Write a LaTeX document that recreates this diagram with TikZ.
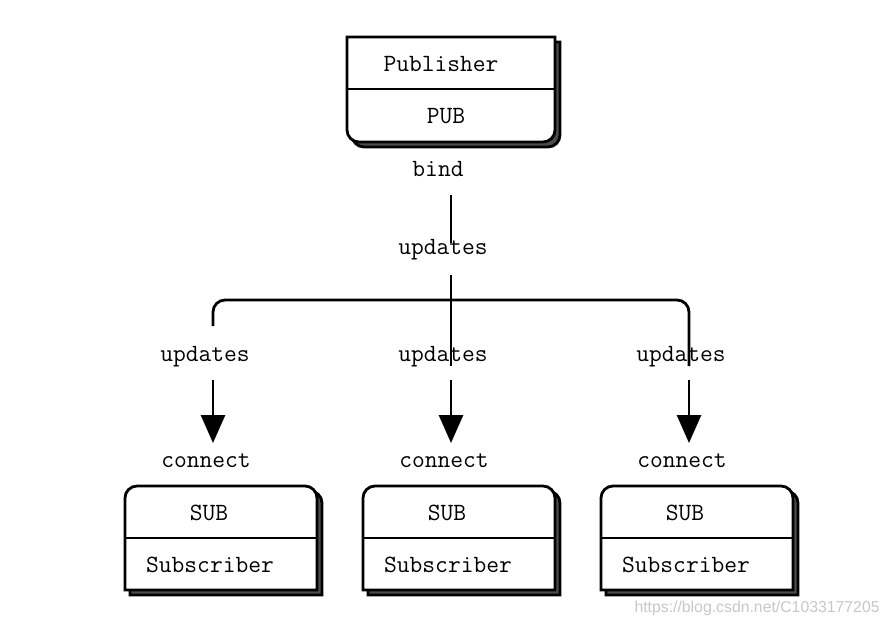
\documentclass[tikz,border=0pt]{standalone}
\usepackage{fontspec}
\newfontfamily\wmfont{Liberation Sans}
\usetikzlibrary{arrows.meta}
\tikzset{
    lbl/.style={font=\fontsize{12.4}{14}\selectfont\ttfamily, inner sep=0pt, anchor=base},
    link/.style={line width=1.4pt},
    push/.style={line width=1.4pt, -{Triangle[length=14pt,width=12pt]}}
}
\begin{document}
\begin{tikzpicture}[x=0.5pt, y=-0.5pt]
\useasboundingbox (0,0) rectangle (888,628);
\def\r{6pt}
\foreach \d/\col in {5/black!70, 0/white}{
    \draw[line width=1.4pt, fill=\col, shift={(\d,\d)}] (347,89) -- (347,37) -- (555,37) -- (555,89) [rounded corners=\r] -- (555,142) -- (347,142) -- cycle;
}
\draw[line width=1.4pt] (347,89) -- (555,89);
\node[lbl] (pubname) at (441,71) {Publisher};
\node[lbl] (pubsock) at (446,123) {PUB};
\node[lbl] (bind) at (438,176) {bind};
\node[lbl] (updtop) at (443,254) {updates};
\coordinate (bindout) at (451,195);
\coordinate (updin) at (451,243);
\coordinate (updout) at (451,275);
\coordinate (fork) at (451,300);
\draw[link] (bindout) -- (updin);
\foreach \x/\n in {125/l, 363/m, 601/r}{
    \foreach \d/\col in {5/black!70, 0/white}{
        \draw[line width=1.4pt, fill=\col, shift={(\d,\d)}, rounded corners=\r] (\x,538) -- (\x,486) -- (\x+192,486) -- (\x+192,538) [sharp corners] -- (\x+192,590) -- (\x,590) -- cycle;
    }
    \draw[line width=1.4pt] (\x,538) -- (\x+192,538);
    \node[lbl] (sub\n) at (\x+84,520) {SUB};
    \node[lbl] (subname\n) at (\x+85,572) {Subscriber};
    \node[lbl] (upd\n) at (\x+80,361) {updates};
    \node[lbl] (con\n) at (\x+81,467) {connect};
    \coordinate (arrin\n) at (\x+88,380);
    \coordinate (arrout\n) at (\x+88,443);
    \draw[push] (arrin\n) -- (arrout\n);
}
\coordinate (branchl) at (213,326);
\coordinate (branchm) at (451,366);
\coordinate (branchr) at (689,366);
\draw[link] (updout) -- (branchm);
\draw[link, rounded corners=\r] (branchl) -- (213,300) -- (689,300) -- (branchr);
\node[font=\wmfont\fontsize{7.9}{9}\selectfont, text=black!22, anchor=east, inner sep=0pt] (mark) at (880,608) {https://blog.csdn.net/C1033177205};
\end{tikzpicture}
\end{document}
